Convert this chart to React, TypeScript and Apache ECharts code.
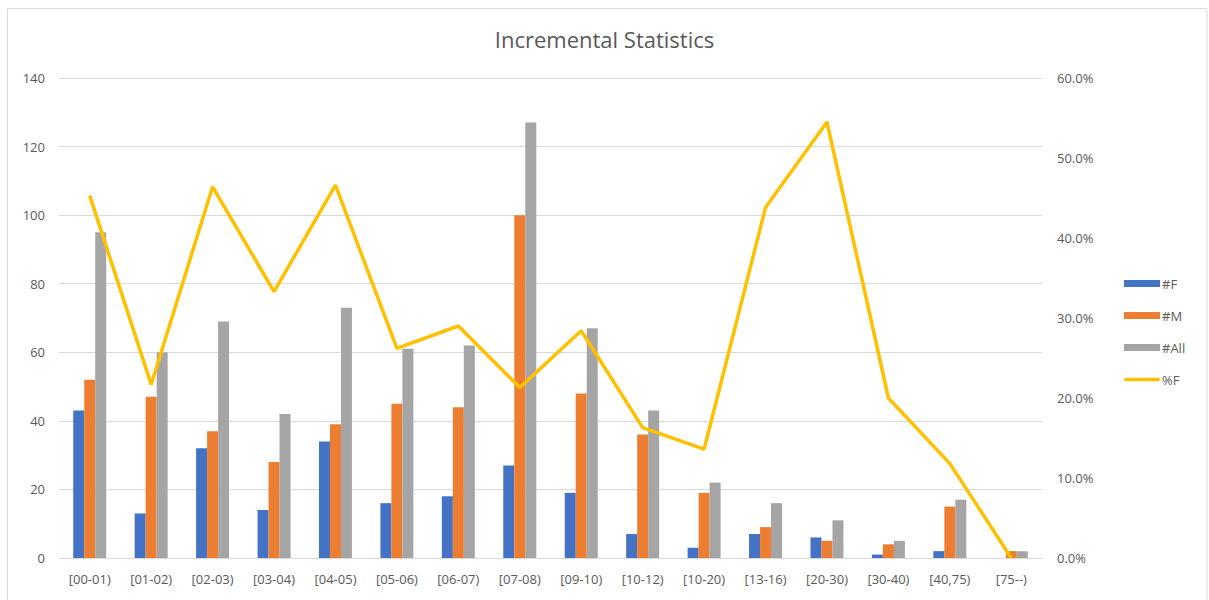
import React, { useEffect, useRef } from "react";
import * as echarts from "echarts";

const categories = ["[00-01)", "[01-02)", "[02-03)", "[03-04)", "[04-05)", "[05-06)", "[06-07)", "[07-08)", "[09-10)", "[10-12)", "[10-20)", "[13-16)", "[20-30)", "[30-40)", "[40,75)", "[75--)"];
const femaleCounts = [43, 13, 32, 14, 34, 16, 18, 27, 19, 7, 3, 7, 6, 1, 2, 0];
const maleCounts = [52, 47, 37, 28, 39, 45, 44, 100, 48, 36, 19, 9, 5, 4, 15, 2];
const allCounts = [95, 60, 69, 42, 73, 61, 62, 127, 67, 43, 22, 16, 11, 5, 17, 2];
const femalePercent = [45.3, 21.7, 46.4, 33.3, 46.6, 26.2, 29.0, 21.3, 28.4, 16.3, 13.6, 43.8, 54.5, 20.0, 11.8, 0.0];

const FONT = "'Open Sans', 'Noto Sans', sans-serif";
const TEXT = "#595959";

export default function App() {
  const ref = useRef<HTMLDivElement>(null);
  useEffect(() => {
    if (!ref.current) return;
    const chart = echarts.init(ref.current, undefined, { renderer: "svg" });
    chart.setOption({
      animation: false,
      backgroundColor: "#ffffff",
      textStyle: { fontFamily: FONT },
      title: {
        text: "Incremental Statistics",
        left: "center",
        top: 23,
        textStyle: { fontFamily: FONT, fontSize: 22, fontWeight: "normal", color: TEXT },
      },
      graphic: [
        {
          type: "rect",
          shape: { x: 7.5, y: 8.5, width: 1199.5, height: 620 },
          style: { fill: "none", stroke: "#d9d9d9", lineWidth: 1 },
          silent: true,
        },
      ],
      legend: {
        orient: "vertical",
        left: 1119,
        top: 272,
        itemWidth: 36,
        itemHeight: 7,
        itemGap: 19,
        textStyle: { fontFamily: FONT, fontSize: 13, color: TEXT, padding: [0, 0, 0, -3] },
        data: [
          { name: "#F", icon: "rect" },
          { name: "#M", icon: "rect" },
          { name: "#All", icon: "rect" },
          { name: "%F", icon: "path://M2,0 H38 A2,2 0 0 1 38,4 H2 A2,2 0 0 1 2,0 Z" },
        ],
      },
      grid: { left: 59, right: 167, top: 78, bottom: 42, containLabel: false },
      xAxis: {
        type: "category",
        data: categories,
        axisLine: { lineStyle: { color: "#d9d9d9", width: 1 } },
        axisTick: { show: false },
        axisLabel: { color: TEXT, fontSize: 13, fontFamily: FONT, margin: 14, interval: 0 },
      },
      yAxis: [
        {
          type: "value",
          min: 0,
          max: 140,
          interval: 20,
          axisLine: { show: false },
          axisTick: { show: false },
          axisLabel: { color: TEXT, fontSize: 13, fontFamily: FONT, margin: 14 },
          splitLine: { lineStyle: { color: "#d9d9d9", width: 1 } },
        },
        {
          type: "value",
          min: 0,
          max: 60,
          interval: 10,
          axisLine: { show: false },
          axisTick: { show: false },
          axisLabel: {
            color: TEXT,
            fontSize: 13,
            fontFamily: FONT,
            margin: 15,
            formatter: (v: number) => v.toFixed(1) + "%",
          },
          splitLine: { show: false },
        },
      ],
      series: [
        { name: "#F", type: "bar", data: femaleCounts, barWidth: 11, barGap: "0%", itemStyle: { color: "#4472C4" } },
        { name: "#M", type: "bar", data: maleCounts, barWidth: 11, barGap: "0%", itemStyle: { color: "#ED7D31" } },
        { name: "#All", type: "bar", data: allCounts, barWidth: 11, barGap: "0%", itemStyle: { color: "#A5A5A5" } },
        {
          name: "%F",
          type: "line",
          yAxisIndex: 1,
          data: femalePercent,
          symbol: "none",
          lineStyle: { color: "#FFC000", width: 3.5 },
          itemStyle: { color: "#FFC000" },
          z: 5,
        },
      ],
    });
    return () => chart.dispose();
  }, []);
  return <div ref={ref} style={{ position: "fixed", left: 0, top: 0, width: 1209, height: 600 }} />;
}
